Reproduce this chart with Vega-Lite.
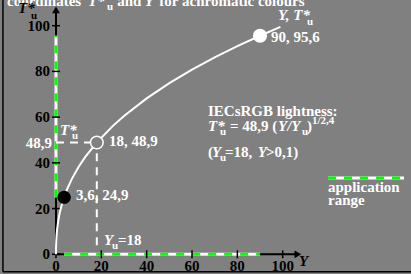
{
  "$schema": "https://vega.github.io/schema/vega-lite/v6.json",
  "width": 411,
  "height": 274,
  "autosize": {"type": "none"},
  "padding": 0,
  "background": "#808080",
  "config": {"view": {"stroke": null}, "text": {"font": "Liberation Serif", "fontWeight": "bold"}},
  "datasets": {
    "curve": [
      {"x": 0, "y": 0}, {"x": 0.02, "y": 2.87}, {"x": 0.05, "y": 4.21}, {"x": 0.1, "y": 5.62},
      {"x": 0.25, "y": 8.23}, {"x": 0.5, "y": 10.99}, {"x": 1, "y": 14.67}, {"x": 1.5, "y": 17.36},
      {"x": 2, "y": 19.58}, {"x": 3, "y": 23.18}, {"x": 3.6, "y": 25.01}, {"x": 5, "y": 28.68},
      {"x": 7, "y": 32.99}, {"x": 10, "y": 38.28}, {"x": 13, "y": 42.7}, {"x": 18, "y": 48.9},
      {"x": 25, "y": 56.07}, {"x": 30, "y": 60.5}, {"x": 40, "y": 68.2}, {"x": 50, "y": 74.85},
      {"x": 60, "y": 80.75}, {"x": 70, "y": 86.11}, {"x": 80, "y": 91.04}, {"x": 90, "y": 95.61},
      {"x": 99, "y": 99.49}
    ],
    "axes": [
      {"x": 0, "y": 0, "x2": 106.5, "y2": 0},
      {"x": 0, "y": 0, "x2": 0, "y2": 106.5}
    ],
    "border": [
      {"x": -23.4, "y": -7.6, "x2": -23.4, "y2": 112},
      {"x": -23.4, "y": -7.6, "x2": 157, "y2": -7.6}
    ],
    "app": [
      {"x": 0, "y": 24.9, "x2": 0, "y2": 95.6},
      {"x": 3.6, "y": 0, "x2": 90, "y2": 0},
      {"x": 120, "y": 33.4, "x2": 153.5, "y2": 33.4}
    ],
    "guides": [
      {"x": 0, "y": 48.9, "x2": 18, "y2": 48.9},
      {"x": 18, "y": 4, "x2": 18, "y2": 48.9}
    ],
    "yt": [{"x": 0, "y": 0}, {"x": 0, "y": 20}, {"x": 0, "y": 40}, {"x": 0, "y": 60}, {"x": 0, "y": 80}, {"x": 0, "y": 100}],
    "xt": [{"x": 0, "y": 0}, {"x": 20, "y": 0}, {"x": 40, "y": 0}, {"x": 60, "y": 0}, {"x": 80, "y": 0}, {"x": 100, "y": 0}],
    "ylab": [
      {"x": -2.65, "y": 0, "t": "0"}, {"x": -2.65, "y": 20, "t": "20"}, {"x": -2.65, "y": 40, "t": "40"},
      {"x": -2.65, "y": 60, "t": "60"}, {"x": -2.65, "y": 80, "t": "80"}, {"x": -2.65, "y": 100, "t": "100"}
    ],
    "xlab": [
      {"x": 0, "y": -7.3, "t": "0"}, {"x": 20, "y": -7.3, "t": "20"}, {"x": 40, "y": -7.3, "t": "40"},
      {"x": 60, "y": -7.3, "t": "60"}, {"x": 80, "y": -7.3, "t": "80"}, {"x": 100, "y": -7.3, "t": "100"}
    ],
    "arrowUp": [{"x": 0, "y": 106.9}],
    "arrowRight": [{"x": 106.7, "y": 0}],
    "blackDot": [{"x": 3.6, "y": 24.9}],
    "whiteDot": [{"x": 90, "y": 95.6}],
    "openDot": [{"x": 18, "y": 48.9}],
    "wbold": [
      {"x": -21.6, "y": 108.6, "t": "coordinates"},
      {"x": 27.0, "y": 108.6, "t": "and"},
      {"x": 45.6, "y": 108.6, "t": "for achromatic colours"},
      {"x": 23.38, "y": 47.38, "t": "18, 48,9"},
      {"x": 8.82, "y": 23.75, "t": "3,6, 24,9"},
      {"x": 94.84, "y": 92.87, "t": "90, 95,6"},
      {"x": 67.05, "y": 60.5, "t": "IECsRGB lightness:"},
      {"x": 76.75, "y": 53.94, "t": "= 48,9 ("},
      {"x": 110.7, "y": 53.94, "t": ")"},
      {"x": 67.05, "y": 42.56, "t": "("},
      {"x": 74.55, "y": 42.56, "t": "=18,"},
      {"x": 92.6, "y": 42.56, "t": ">0,1)"},
      {"x": 27.35, "y": 4.07, "t": "=18"},
      {"x": 119.98, "y": 27.25, "t": "application"},
      {"x": 119.98, "y": 21.57, "t": "range"}
    ],
    "wboldRight": [{"x": -1.76, "y": 48.9, "t": "48,9"}],
    "wital": [
      {"x": 14.1, "y": 108.6, "t": "T*"},
      {"x": 39.0, "y": 108.6, "t": "Y"},
      {"x": 1.76, "y": 52.19, "t": "T*"},
      {"x": 97.93, "y": 102.3, "t": "Y, T*"},
      {"x": 67.05, "y": 53.94, "t": "T*"},
      {"x": 97.93, "y": 53.94, "t": "Y/Y"},
      {"x": 68.81, "y": 42.56, "t": "Y"},
      {"x": 89.0, "y": 42.56, "t": "Y"},
      {"x": 21.17, "y": 4.07, "t": "Y"}
    ],
    "wsub": [
      {"x": 22.5, "y": 106.8, "t": "u"},
      {"x": 7.06, "y": 50.44, "t": "u"},
      {"x": 110.7, "y": 100.3, "t": "u"},
      {"x": 72.34, "y": 52.19, "t": "u"},
      {"x": 108.5, "y": 52.19, "t": "u"},
      {"x": 112.9, "y": 57.0, "t": "1/2,4"},
      {"x": 72.34, "y": 40.81, "t": "u"},
      {"x": 24.7, "y": 2.32, "t": "u"}
    ],
    "bital": [
      {"x": -16.76, "y": 105.7, "t": "T*"},
      {"x": 107.2, "y": -5.1, "t": "Y"}
    ],
    "bsub": [{"x": -11.03, "y": 103.1, "t": "u"}]
  },
  "encoding": {
    "x": {"field": "x", "type": "quantitative", "scale": {"domain": [-24.7, 156.6], "nice": false, "zero": false}, "axis": null},
    "y": {"field": "y", "type": "quantitative", "scale": {"domain": [-8.62, 111.24], "nice": false, "zero": false}, "axis": null}
  },
  "layer": [
    {"data": {"name": "axes"}, "mark": {"type": "rule", "color": "black", "strokeWidth": 2}, "encoding": {"x2": {"field": "x2"}, "y2": {"field": "y2"}}},
    {"data": {"name": "app"}, "mark": {"type": "rule", "color": "white", "strokeWidth": 3}, "encoding": {"x2": {"field": "x2"}, "y2": {"field": "y2"}}},
    {"data": {"name": "app"}, "mark": {"type": "rule", "color": "#00ff00", "strokeWidth": 3, "strokeDash": [8, 8]}, "encoding": {"x2": {"field": "x2"}, "y2": {"field": "y2"}}},
    {"data": {"name": "guides"}, "mark": {"type": "rule", "color": "white", "strokeWidth": 2, "strokeDash": [8, 6]}, "encoding": {"x2": {"field": "x2"}, "y2": {"field": "y2"}}},
    {"data": {"name": "yt"}, "mark": {"type": "tick", "orient": "horizontal", "color": "black", "size": 8, "thickness": 1.5, "opacity": 1}},
    {"data": {"name": "xt"}, "mark": {"type": "tick", "orient": "vertical", "color": "black", "size": 8, "thickness": 1.5, "opacity": 1}},
    {"data": {"name": "arrowUp"}, "mark": {"type": "point", "shape": "triangle-up", "filled": true, "color": "black", "size": 60, "opacity": 1}},
    {"data": {"name": "arrowRight"}, "mark": {"type": "point", "shape": "triangle-right", "filled": true, "color": "black", "size": 60, "opacity": 1}},
    {"data": {"name": "curve"}, "mark": {"type": "line", "color": "white", "strokeWidth": 2}},
    {"data": {"name": "blackDot"}, "mark": {"type": "point", "shape": "circle", "filled": true, "color": "black", "size": 180, "opacity": 1}},
    {"data": {"name": "whiteDot"}, "mark": {"type": "point", "shape": "circle", "filled": true, "color": "white", "size": 200, "opacity": 1}},
    {"data": {"name": "openDot"}, "mark": {"type": "point", "shape": "circle", "fill": "#808080", "stroke": "white", "strokeWidth": 1.5, "size": 160, "opacity": 1, "fillOpacity": 1}},
    {"data": {"name": "ylab"}, "mark": {"type": "text", "color": "black", "fontSize": 15, "align": "right", "baseline": "middle"}, "encoding": {"text": {"field": "t"}}},
    {"data": {"name": "xlab"}, "mark": {"type": "text", "color": "black", "fontSize": 15, "align": "center", "baseline": "alphabetic"}, "encoding": {"text": {"field": "t"}}},
    {"data": {"name": "wbold"}, "mark": {"type": "text", "color": "white", "fontSize": 15, "align": "left", "baseline": "alphabetic"}, "encoding": {"text": {"field": "t"}}},
    {"data": {"name": "wboldRight"}, "mark": {"type": "text", "color": "white", "fontSize": 15, "align": "right", "baseline": "middle"}, "encoding": {"text": {"field": "t"}}},
    {"data": {"name": "wital"}, "mark": {"type": "text", "color": "white", "fontSize": 15, "fontStyle": "italic", "align": "left", "baseline": "alphabetic"}, "encoding": {"text": {"field": "t"}}},
    {"data": {"name": "wsub"}, "mark": {"type": "text", "color": "white", "fontSize": 11, "align": "left", "baseline": "alphabetic"}, "encoding": {"text": {"field": "t"}}},
    {"data": {"name": "bital"}, "mark": {"type": "text", "color": "black", "fontSize": 15, "fontStyle": "italic", "align": "left", "baseline": "alphabetic"}, "encoding": {"text": {"field": "t"}}},
    {"data": {"name": "bsub"}, "mark": {"type": "text", "color": "black", "fontSize": 11, "align": "left", "baseline": "alphabetic"}, "encoding": {"text": {"field": "t"}}},
    {"data": {"name": "border"}, "mark": {"type": "rule", "color": "black", "strokeWidth": 1.5}, "encoding": {"x2": {"field": "x2"}, "y2": {"field": "y2"}}}
  ]
}
